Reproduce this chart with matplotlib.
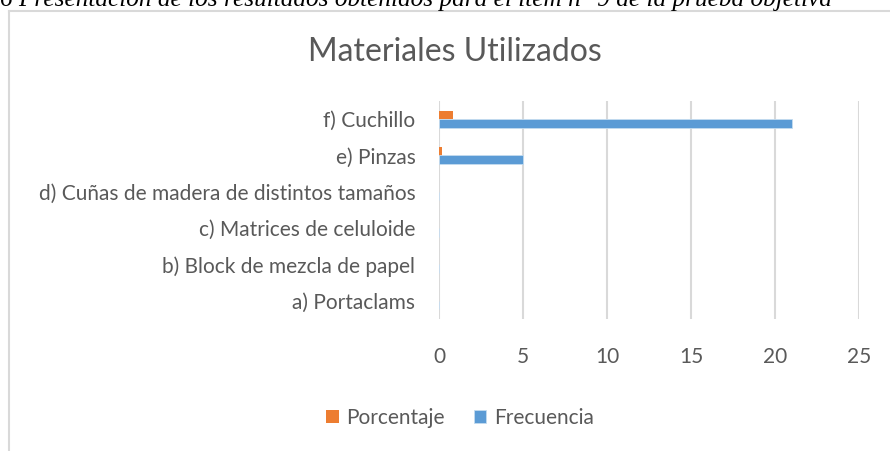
import numpy as np
import matplotlib
matplotlib.use("Agg")
import matplotlib.pyplot as plt
from matplotlib.lines import Line2D

categories = [
    "a) Portaclams",
    "b) Block de mezcla de papel",
    "c) Matrices de celuloide",
    "d) Cuñas de madera de distintos tamaños",
    "e) Pinzas",
    "f) Cuchillo",
]
frecuencia = [0, 0, 0, 0, 5, 21]
porcentaje = [0, 0, 0, 0, 0.19, 0.81]
x_ticks = [0, 5, 10, 15, 20, 25]

TEXT = "#595959"
GRID = "#d9d9d9"
ORANGE = "#ED7D31"
BLUE = "#5B9BD5"
FONT = "Lato"

fig = plt.figure(figsize=(8.9, 4.51), dpi=100)
W, H = 890, 451

# caption, cut off at the top of the picture as in the source
fig.text(0 / W, 1 - 6 / H,
         "6 Presentación de los resultados obtenidos para el ítem n° 9 de la prueba objetiva",
         family="Liberation Serif", style="italic", fontsize=18.2, color="black",
         ha="left", va="baseline")

# chart frame
fig.add_artist(Line2D([9 / W, 9 / W], [0, 1 - 11 / H], transform=fig.transFigure,
                      color=GRID, lw=1.5))
fig.add_artist(Line2D([9 / W, 1], [1 - 11 / H, 1 - 11 / H], transform=fig.transFigure,
                      color=GRID, lw=1.5))

ax = fig.add_axes([439 / W, 1 - 319 / H, 420 / W, 218 / H])

y = np.arange(len(categories))
h = 0.235
ax.barh(y + h / 2, porcentaje, height=h, color=ORANGE, label="Porcentaje", zorder=3)
ax.barh(y - h / 2, frecuencia, height=h, color=BLUE, label="Frecuencia",
        edgecolor="#c5dcf0", linewidth=0.6, zorder=3)

ax.set_xlim(0, 25)
ax.set_ylim(-0.5, len(categories) - 0.5)
ax.set_xticks(x_ticks)
ax.set_yticks(y)
ax.set_yticklabels(categories)
ax.grid(axis="x", color=GRID, lw=1.5, zorder=0)
for s in ax.spines.values():
    s.set_visible(False)
ax.tick_params(axis="both", length=0, colors=TEXT, labelsize=15)
ax.tick_params(axis="x", pad=20)
ax.tick_params(axis="y", pad=17)
for lab in ax.get_xticklabels() + ax.get_yticklabels():
    lab.set_family(FONT)

fig.text(455 / W, 1 - 52 / H, "Materiales Utilizados", family=FONT, fontsize=23,
         color=TEXT, ha="center", va="center")

fig.legend(loc="center", bbox_to_anchor=(460 / W, 1 - 418 / H), ncol=2, frameon=False,
           prop={"family": FONT, "size": 15}, labelcolor=TEXT,
           handlelength=0.6, handleheight=0.6, handletextpad=0.35, columnspacing=1.4)

fig.savefig("out.png", dpi=100)
